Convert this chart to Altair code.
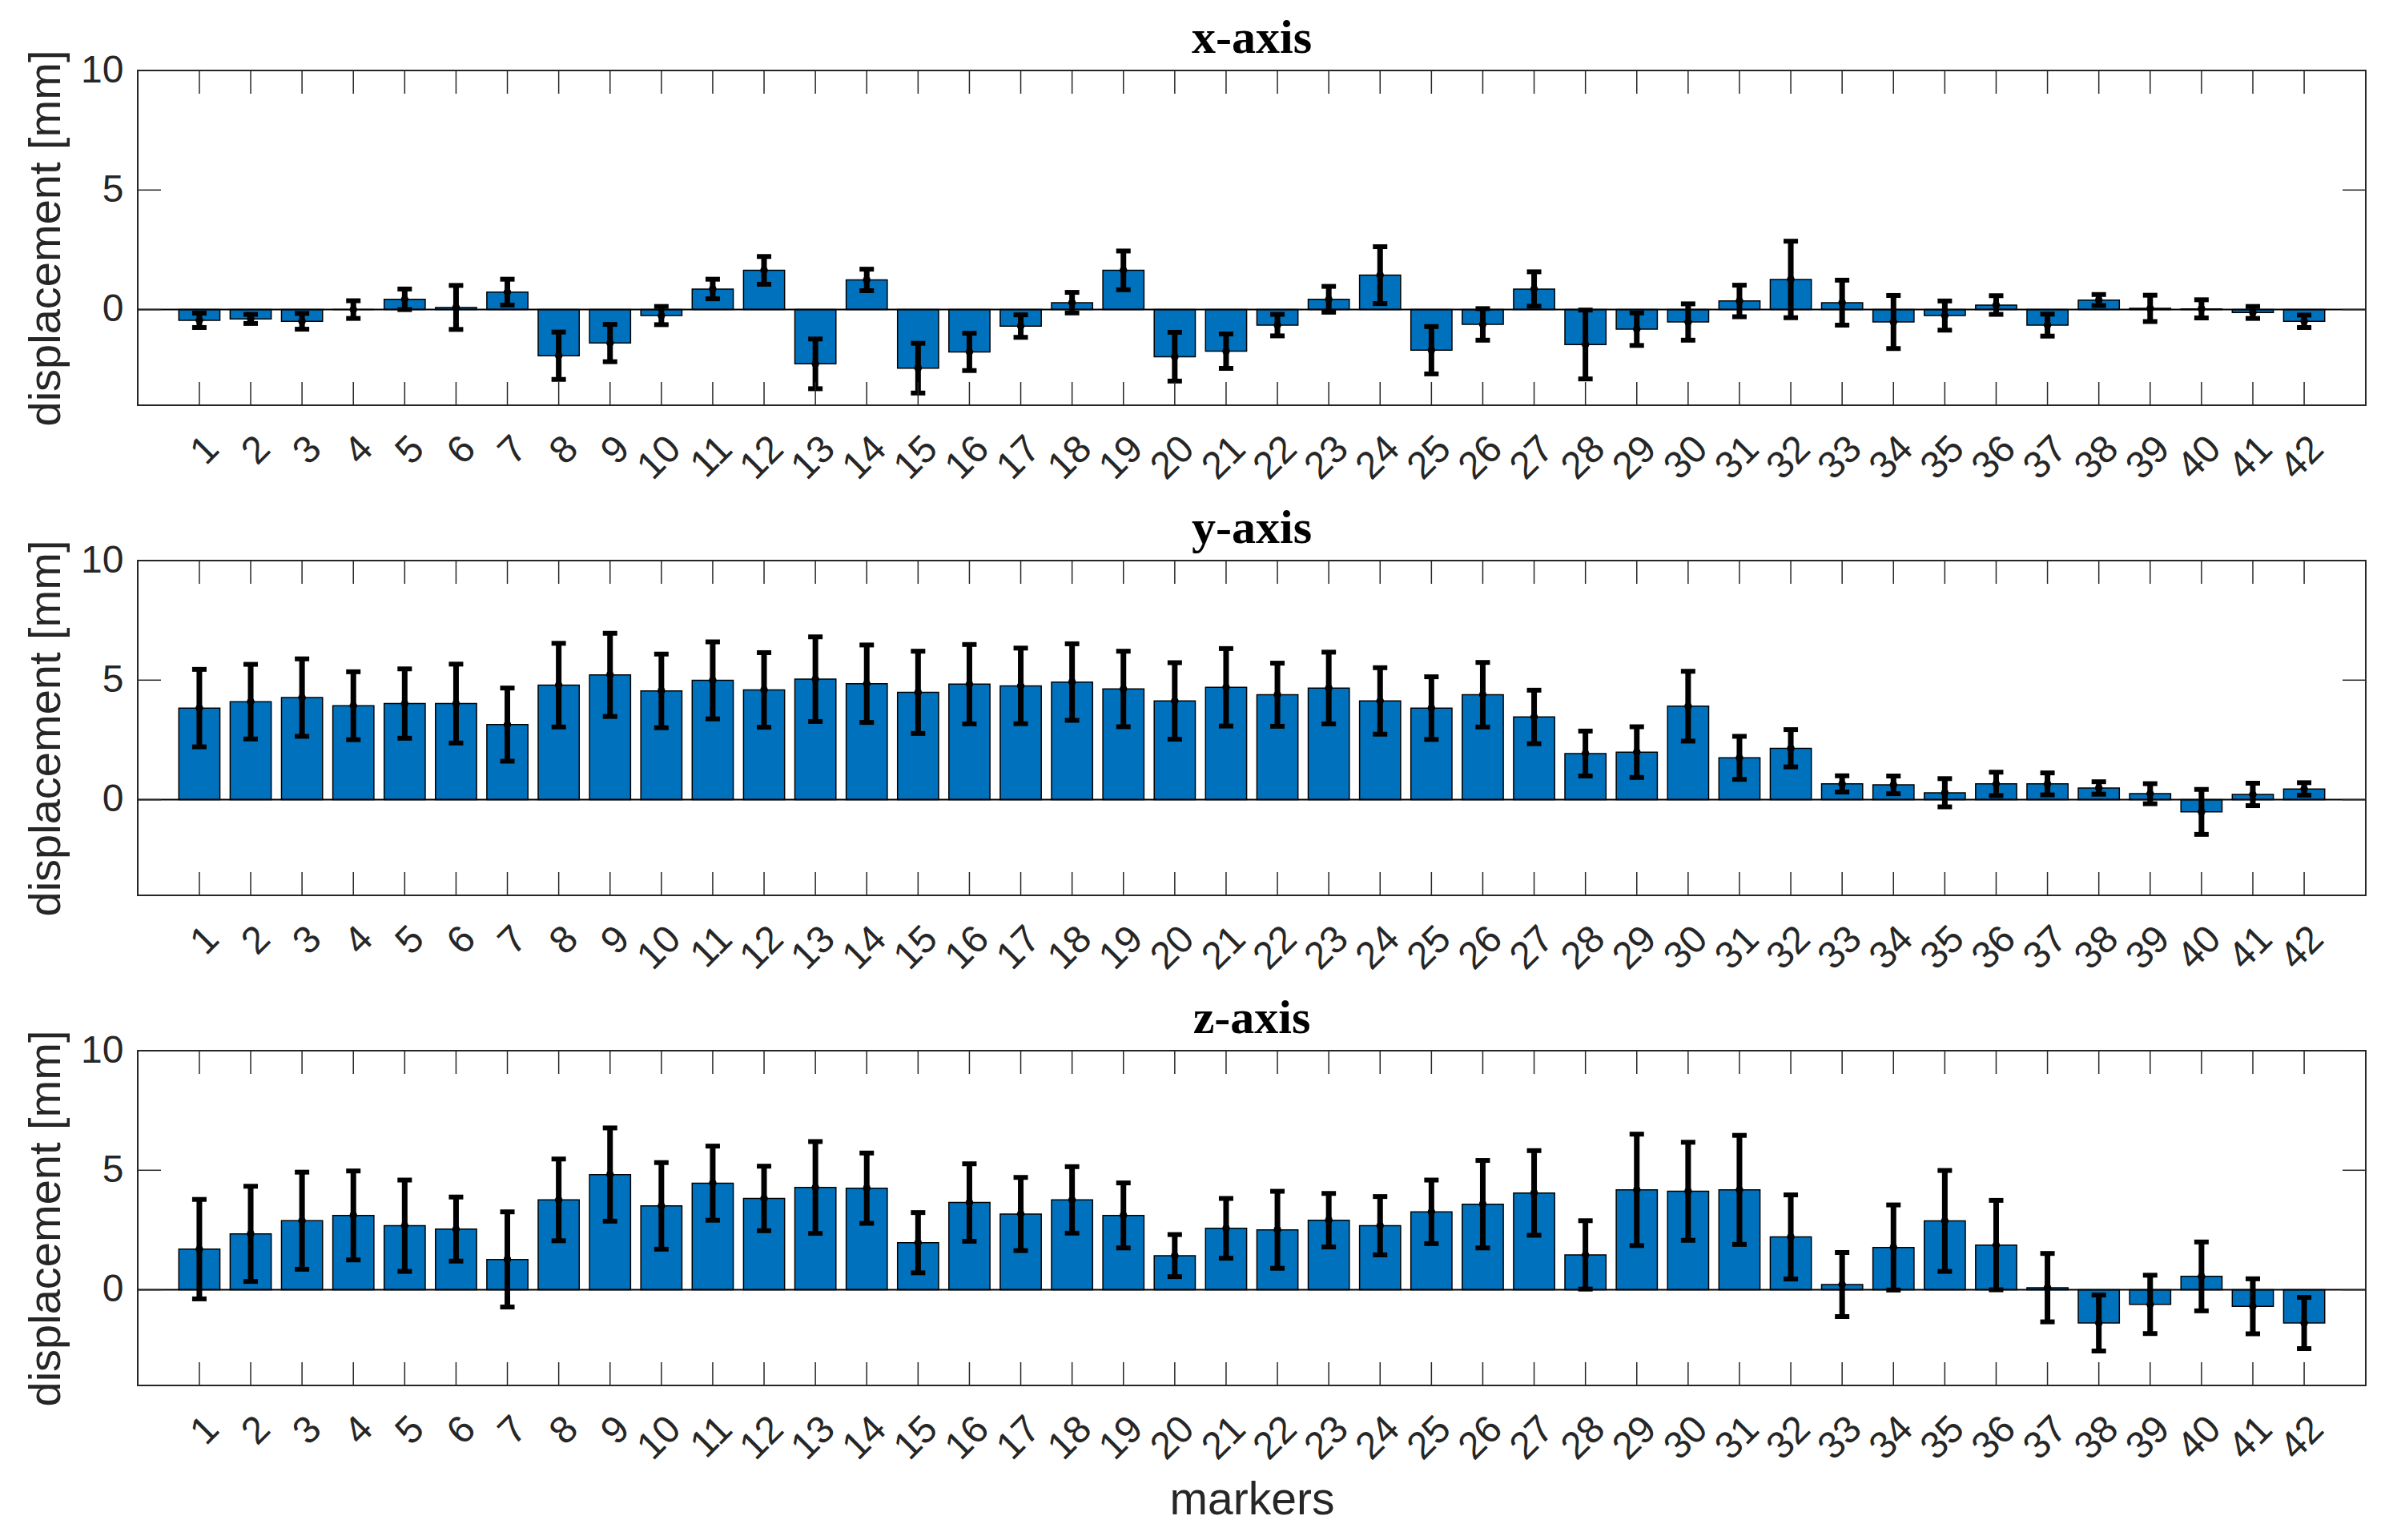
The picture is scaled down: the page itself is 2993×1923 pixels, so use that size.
import altair as alt
import pandas as pd

markers = [str(i) for i in range(1, 43)]

x_mean = [-0.45, -0.39, -0.49, 0.0, 0.43, 0.09, 0.73, -1.93, -1.40, -0.25,
          0.86, 1.64, -2.27, 1.24, -2.45, -1.77, -0.69, 0.29, 1.64, -1.97,
          -1.74, -0.65, 0.43, 1.44, -1.70, -0.62, 0.86, -1.46, -0.82, -0.52,
          0.36, 1.26, 0.29, -0.52, -0.25, 0.19, -0.65, 0.40, 0.05, 0.03,
          -0.12, -0.49]
x_err = [0.30, 0.19, 0.33, 0.37, 0.43, 0.92, 0.54, 0.99, 0.78, 0.38,
         0.41, 0.58, 1.04, 0.45, 1.04, 0.78, 0.47, 0.43, 0.81, 1.02,
         0.72, 0.45, 0.54, 1.19, 0.99, 0.66, 0.72, 1.44, 0.68, 0.76,
         0.66, 1.60, 0.94, 1.11, 0.61, 0.39, 0.46, 0.23, 0.55, 0.38,
         0.25, 0.26]

y_mean = [3.83, 4.10, 4.27, 3.93, 4.02, 4.02, 3.14, 4.79, 5.22, 4.55,
          4.99, 4.59, 5.04, 4.85, 4.49, 4.83, 4.76, 4.92, 4.63, 4.13,
          4.70, 4.39, 4.67, 4.13, 3.83, 4.39, 3.46, 1.93, 1.99, 3.91,
          1.75, 2.15, 0.66, 0.62, 0.29, 0.66, 0.66, 0.49, 0.25, -0.51,
          0.22, 0.45]
y_err = [1.62, 1.56, 1.62, 1.42, 1.45, 1.65, 1.53, 1.75, 1.74, 1.54,
         1.61, 1.56, 1.77, 1.62, 1.72, 1.66, 1.58, 1.60, 1.58, 1.60,
         1.62, 1.32, 1.50, 1.39, 1.31, 1.35, 1.12, 0.94, 1.06, 1.46,
         0.90, 0.78, 0.34, 0.37, 0.59, 0.49, 0.46, 0.26, 0.42, 0.94,
         0.47, 0.26]

z_mean = [1.70, 2.34, 2.89, 3.11, 2.68, 2.54, 1.27, 3.76, 4.82, 3.51,
          4.46, 3.82, 4.28, 4.25, 1.97, 3.65, 3.17, 3.76, 3.11, 1.43,
          2.57, 2.51, 2.91, 2.68, 3.26, 3.58, 4.05, 1.46, 4.18, 4.12,
          4.18, 2.21, 0.22, 1.77, 2.88, 1.87, 0.09, -1.39, -0.61, 0.56,
          -0.69, -1.39]
z_err = [2.08, 1.99, 2.03, 1.86, 1.91, 1.34, 1.99, 1.71, 1.95, 1.81,
         1.55, 1.35, 1.92, 1.47, 1.26, 1.62, 1.53, 1.39, 1.36, 0.88,
         1.25, 1.61, 1.12, 1.22, 1.33, 1.83, 1.77, 1.43, 2.33, 2.05,
         2.28, 1.76, 1.34, 1.78, 2.11, 1.87, 1.43, 1.17, 1.22, 1.44,
         1.15, 1.07]

panel_titles = ["x-axis", "y-axis", "z-axis"]
ytick_values = [0, 5, 10]
y_domain = [-4, 10]

W, H = 2782, 418
TICK = 29
BLUE = "#0072BD"
AX = "#262626"
SANS = "Liberation Sans"
SERIF = "Liberation Serif"
YTITLE = "displacement [mm]"


def panel(title, means, errs, last):
    df = pd.DataFrame({"marker": markers, "mean": means, "err": errs})
    df["lo"] = df["mean"] - df["err"]
    df["hi"] = df["mean"] + df["err"]
    base = alt.Chart(df)
    yscale = alt.Scale(domain=y_domain, nice=False, zero=False)
    xscale = alt.Scale(paddingInner=0.2, paddingOuter=0.8)
    xtitle = "markers" if last else None
    xaxis = alt.Axis(labelAngle=315, labelAlign="right", labelBaseline="top",
                     labelFontSize=48, labelPadding=30, ticks=False, domain=False,
                     grid=False, titleFontSize=57, titlePadding=14)
    yaxis = alt.Axis(values=ytick_values, ticks=False, domain=False, grid=False,
                     labelFontSize=48, labelPadding=18, titleFontSize=56,
                     titlePadding=14)

    def X():
        return alt.X("marker:O", sort=markers, scale=xscale, axis=xaxis, title=xtitle)

    def Y(f):
        return alt.Y(f, scale=yscale, axis=yaxis, title=YTITLE)

    bars = base.mark_bar(color=BLUE, stroke="black", strokeWidth=1.5).encode(
        x=X(), y=Y("mean:Q"))
    zero = alt.Chart(pd.DataFrame({"v": [0]})).mark_rule(color="black", strokeWidth=2).encode(
        y=Y("v:Q"))
    err = base.mark_rule(color="black", strokeWidth=7).encode(
        x=X(), y=Y("lo:Q"), y2="hi:Q")
    cap_lo = base.mark_tick(color="black", size=18, thickness=6, opacity=1).encode(
        x=X(), y=Y("lo:Q"))
    cap_hi = base.mark_tick(color="black", size=18, thickness=6, opacity=1).encode(
        x=X(), y=Y("hi:Q"))
    dot = base.mark_circle(color="black", size=90, opacity=1).encode(
        x=X(), y=Y("mean:Q"))
    top_ticks = base.mark_rule(color=AX, strokeWidth=1.5).encode(
        x=X(), y=alt.value(0), y2=alt.value(TICK))
    bot_ticks = base.mark_rule(color=AX, strokeWidth=1.5).encode(
        x=X(), y=alt.value(H - TICK), y2=alt.value(H))
    ydf = alt.Chart(pd.DataFrame({"v": ytick_values}))
    left_ticks = ydf.mark_rule(color=AX, strokeWidth=1.5).encode(
        y=Y("v:Q"), x=alt.value(0), x2=alt.value(TICK))
    right_ticks = ydf.mark_rule(color=AX, strokeWidth=1.5).encode(
        y=Y("v:Q"), x=alt.value(W - TICK), x2=alt.value(W))

    return alt.layer(bars, zero, err, cap_lo, cap_hi, dot, top_ticks, bot_ticks,
                     left_ticks, right_ticks).properties(
        width=W, height=H,
        title=alt.TitleParams(title, font=SERIF, fontSize=60, fontWeight="bold",
                              color="black", offset=9, dy=26, frame="group"),
    )


series = [(x_mean, x_err), (y_mean, y_err), (z_mean, z_err)]
charts = [panel(t, m, e, i == 2) for i, (t, (m, e)) in enumerate(zip(panel_titles, series))]

chart = alt.vconcat(*charts, spacing=20).properties(
    padding={"left": 20, "top": 9, "right": 5, "bottom": 0}
).configure_view(stroke=AX, strokeWidth=2).configure_axis(
    labelFont=SANS, titleFont=SANS, labelColor=AX, titleColor=AX, titleFontWeight="normal"
)

chart.save("out.html", embed_options={"renderer": "svg", "actions": False})
